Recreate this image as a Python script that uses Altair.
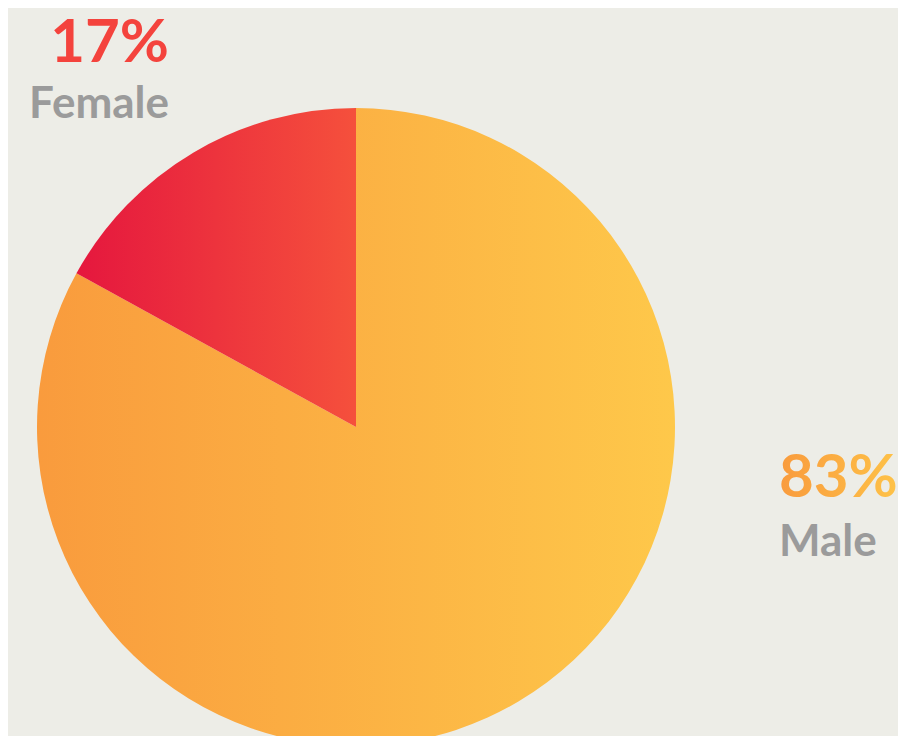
import altair as alt
import pandas as pd

gender = ["Male", "Female"]
share = [83, 17]
order_idx = [0, 1]

pct_labels = ["83%", "17%"]
name_labels = ["Male", "Female"]

BG = "#EDEDE7"
GRAD_MALE = {"gradient": "linear", "x1": 0, "y1": 0, "x2": 1, "y2": 0,
             "stops": [{"offset": 0, "color": "#F99B3D"}, {"offset": 1, "color": "#FEC84A"}]}
GRAD_FEMALE = {"gradient": "linear", "x1": 0, "y1": 0, "x2": 1, "y2": 0,
               "stops": [{"offset": 0, "color": "#E5173E"}, {"offset": 1, "color": "#F5503C"}]}
GRAD_TXT_M = {"gradient": "linear", "x1": 0, "y1": 0, "x2": 1, "y2": 0,
              "stops": [{"offset": 0, "color": "#F99B3D"}, {"offset": 1, "color": "#FEC248"}]}

df = pd.DataFrame({"gender": gender, "share": share, "idx": order_idx})

CX, CY, R = 348, 419, 319

pie = alt.Chart(df).mark_arc(stroke=None).encode(
    theta=alt.Theta("share:Q", stack=True),
    order=alt.Order("idx:Q"),
    detail="gender:N",
    color=alt.condition(alt.datum.gender == "Female", alt.value(GRAD_FEMALE), alt.value(GRAD_MALE)),
    x=alt.value(CX),
    y=alt.value(CY),
    radius=alt.value(R),
)

lab_f = pd.DataFrame({"pct": [pct_labels[1]], "name": [name_labels[1]]})
lab_m = pd.DataFrame({"pct": [pct_labels[0]], "name": [name_labels[0]]})

FONT = "Lato"

f_pct = alt.Chart(lab_f).mark_text(font=FONT, fontWeight="bold", fontSize=60, align="right",
                                   baseline="alphabetic", color="#F4433D").encode(
    text="pct:N", x=alt.value(161), y=alt.value(54))
f_name = alt.Chart(lab_f).mark_text(font=FONT, fontWeight="bold", fontSize=44, align="right",
                                    baseline="alphabetic", color="#9B9B9B").encode(
    text="name:N", x=alt.value(161), y=alt.value(110))
m_pct = alt.Chart(lab_m).mark_text(font=FONT, fontWeight="bold", fontSize=60, align="left",
                                   baseline="alphabetic", fill=GRAD_TXT_M).encode(
    text="pct:N", x=alt.value(771), y=alt.value(489))
m_name = alt.Chart(lab_m).mark_text(font=FONT, fontWeight="bold", fontSize=44, align="left",
                                    baseline="alphabetic", color="#9B9B9B").encode(
    text="name:N", x=alt.value(771), y=alt.value(548))

chart = alt.layer(pie, f_pct, f_name, m_pct, m_name).properties(
    width=890, height=728, autosize="none", padding=0, background=BG
).configure_view(stroke=None)

chart.save("out.html", embed_options={"renderer": "svg", "actions": False})
